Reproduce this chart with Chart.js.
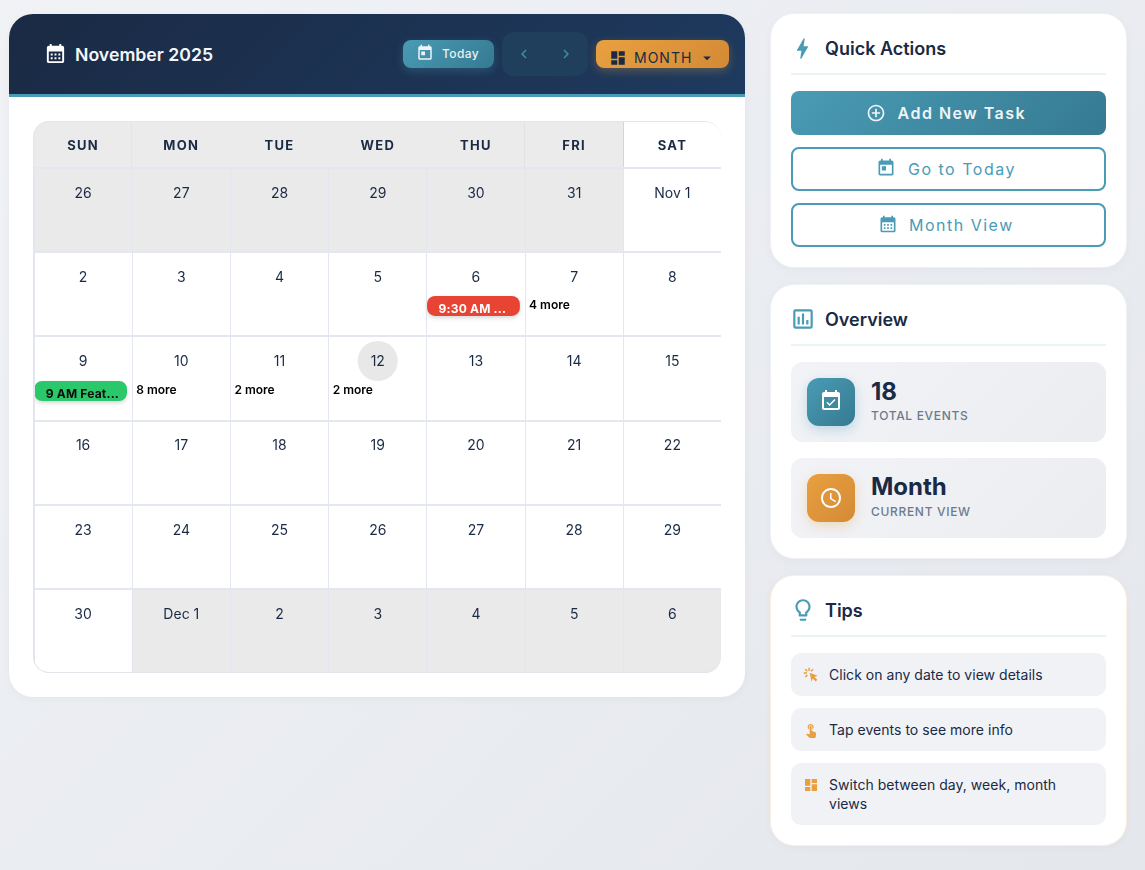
<!DOCTYPE html>
<html lang="en"><head><meta charset="utf-8"><title>Calendar</title>
<script src="https://cdn.jsdelivr.net/npm/chart.js@4"></script>
<style>
*{box-sizing:border-box;margin:0;padding:0}
html,body{width:1145px;height:870px;overflow:hidden}
body{font-family:Inter,sans-serif;color:#1a2a44;background:linear-gradient(135deg,#f0f2f6 0%,#e4e7ec 100%);position:relative}
.a{position:absolute}
.t{position:absolute;white-space:nowrap;line-height:20px;height:20px}
svg.i{position:absolute;fill:currentColor;display:block}
.card{position:absolute;left:770px;width:357px;background:#fff;border-radius:24px;border:1px solid #eef1f6;box-shadow:0 2px 10px rgba(26,42,68,.03)}
.main{position:absolute;left:9px;top:14px;width:736px;height:683px;background:#fff;border-radius:24px;overflow:hidden;box-shadow:0 2px 10px rgba(26,42,68,.04)}
.head{position:absolute;left:0;top:0;width:736px;height:83px;background:linear-gradient(135deg,#1a2a44,#1e3a5f);border-bottom:3px solid #4a9bb5}
.title{font-weight:600;font-size:18px;color:#1a2a44}
.rule{position:absolute;left:791px;width:315px;height:2px;background:#eaf4f7}
.btn{position:absolute;left:791px;width:315px;height:44px;border-radius:8px}
.out{border:2px solid #4a9bb5;background:#fff}
.stat{position:absolute;left:791px;width:315px;height:80px;border-radius:12px;background:linear-gradient(135deg,#f2f3f7,#ebedf1)}
.sic{position:absolute;left:807px;width:48px;height:48px;border-radius:12px}
.tip{position:absolute;left:791px;width:315px;border-radius:10px;background:#f1f2f6}
.tx{font-size:14px;color:#1a2a44;letter-spacing:.03px}
</style></head><body>
<svg width="0" height="0" style="position:absolute"><defs>
<symbol id="month" viewBox="0 0 24 24"><path d="M19 4h-1V2h-2v2H8V2H6v2H5c-1.11 0-1.99.9-1.99 2L3 20a2 2 0 0 0 2 2h14c1.1 0 2-.9 2-2V6c0-1.1-.9-2-2-2zm0 16H5V10h14v10zM9 14H7v-2h2v2zm4 0h-2v-2h2v2zm4 0h-2v-2h2v2zm-8 4H7v-2h2v2zm4 0h-2v-2h2v2zm4 0h-2v-2h2v2z"/></symbol>
<symbol id="today" viewBox="0 0 24 24"><path d="M19 3h-1V1h-2v2H8V1H6v2H5c-1.11 0-1.99.9-1.99 2L3 19c0 1.1.89 2 2 2h14c1.1 0 2-.9 2-2V5c0-1.1-.9-2-2-2zm0 16H5V8h14v11zM7 10h5v5H7z"/></symbol>
<symbol id="dash" viewBox="0 0 24 24"><path d="M3 13h8V3H3v10zm0 8h8v-6H3v6zm10 0h8V11h-8v10zm0-18v6h8V3h-8z"/></symbol>
<symbol id="left" viewBox="0 0 24 24"><path d="M15.41 7.41 14 6l-6 6 6 6 1.41-1.41L10.83 12z"/></symbol>
<symbol id="right" viewBox="0 0 24 24"><path d="M10 6 8.59 7.41 13.17 12l-4.58 4.59L10 18l6-6z"/></symbol>
<symbol id="drop" viewBox="0 0 24 24"><path d="M7 10l5 5 5-5z"/></symbol>
<symbol id="bolt" viewBox="0 0 24 24"><path d="M11 21h-1l1-7H7.5c-.58 0-.57-.32-.38-.66.19-.34.05-.08.07-.12C8.48 10.94 10.42 7.54 13 3h1l-1 7h3.5c.49 0 .56.33.47.51l-.07.15C12.96 17.55 11 21 11 21z"/></symbol>
<symbol id="add" viewBox="0 0 24 24"><path d="M13 7h-2v4H7v2h4v4h2v-4h4v-2h-4V7zm-1-5C6.48 2 2 6.48 2 12s4.48 10 10 10 10-4.48 10-10S17.52 2 12 2zm0 18c-4.41 0-8-3.59-8-8s3.59-8 8-8 8 3.59 8 8-3.59 8-8 8z"/></symbol>
<symbol id="chart" viewBox="0 0 24 24"><path d="M19 3H5c-1.1 0-2 .9-2 2v14c0 1.1.9 2 2 2h14c1.1 0 2-.9 2-2V5c0-1.1-.9-2-2-2zm0 16H5V5h14v14zM7 10h2v7H7zm4-3h2v10h-2zm4 6h2v4h-2z"/></symbol>
<symbol id="avail" viewBox="0 0 24 24"><path d="M16.53 11.06 15.47 10l-4.88 4.88-2.12-2.12-1.06 1.06L10.59 17l5.94-5.94zM19 3h-1V1h-2v2H8V1H6v2H5c-1.11 0-1.99.9-1.99 2L3 19c0 1.1.89 2 2 2h14c1.1 0 2-.9 2-2V5c0-1.1-.9-2-2-2zm0 16H5V8h14v11z"/></symbol>
<symbol id="clock" viewBox="0 0 24 24"><path d="M11.99 2C6.47 2 2 6.48 2 12s4.47 10 9.99 10C17.52 22 22 17.52 22 12S17.52 2 11.99 2zM12 20c-4.42 0-8-3.58-8-8s3.58-8 8-8 8 3.58 8 8-3.58 8-8 8zm.5-13H11v6l5.25 3.15.75-1.23-4.5-2.67z"/></symbol>
<symbol id="bulb" viewBox="0 0 24 24"><path d="M9 21c0 .55.45 1 1 1h4c.55 0 1-.45 1-1v-1H9v1zm3-19C8.14 2 5 5.14 5 9c0 2.38 1.19 4.47 3 5.74V17c0 .55.45 1 1 1h6c.55 0 1-.45 1-1v-2.26c1.81-1.27 3-3.36 3-5.74 0-3.86-3.14-7-7-7zm2.85 11.1-.85.6V16h-4v-2.3l-.85-.6C7.8 12.16 7 10.63 7 9c0-2.76 2.24-5 5-5s5 2.24 5 5c0 1.63-.8 3.16-2.15 4.1z"/></symbol>
<symbol id="touch" viewBox="0 0 24 24"><path d="M9 11.24V7.5C9 6.12 10.12 5 11.5 5S14 6.12 14 7.5v3.74c1.21-.81 2-2.18 2-3.74C16 5.01 13.99 3 11.5 3S7 5.01 7 7.5c0 1.56.79 2.93 2 3.74zm9.84 4.63l-4.54-2.26c-.17-.07-.35-.11-.54-.11H13v-6c0-.83-.67-1.5-1.5-1.5S10 6.67 10 7.5v10.74l-3.43-.72c-.08-.01-.15-.03-.24-.03-.31 0-.59.13-.79.33l-.79.8 4.94 4.94c.27.27.65.44 1.06.44h6.79c.75 0 1.33-.55 1.44-1.28l.75-5.27c.01-.07.02-.14.02-.2 0-.62-.38-1.16-.91-1.38z"/></symbol>
<symbol id="click" viewBox="0 0 24 24"><path d="M10 8.500l12 4.500-4.800 1.900 4.300 4.300-2.500 2.500-4.300-4.300L12.800 22zM8 1h2.200v5H8zM1 8h5v2.200H1zM2.600 4.200l1.600-1.600 3.100 3.100-1.600 1.600zM2.600 14.200l3.100-3.100 1.600 1.600-3.100 3.100zM11.200 5.700l3.100-3.100 1.600 1.600-3.100 3.100z"/></symbol>
</defs></svg>

<div class="main"><div class="head"></div></div>
<svg class="i" style="left:44px;top:42px;width:23px;height:23px;color:#fff"><use href="#month"/></svg>
<div class="t" style="left:75px;top:45px;font-size:17.7px;font-weight:600;color:#f4f6f9">November 2025</div>
<div class="a" style="left:403px;top:40px;width:91px;height:28px;border-radius:8px;background:linear-gradient(135deg,#4a9bb5,#357a91);box-shadow:0 3px 10px rgba(74,155,181,.3)"></div>
<svg class="i" style="left:416px;top:44px;width:18px;height:18px;color:#eef4f7"><use href="#today"/></svg>
<div class="t" style="left:442px;top:44px;font-size:12px;font-weight:500;letter-spacing:.4px;color:#e9f1f5">Today</div>
<div class="a" style="left:502px;top:32px;width:86px;height:44px;border-radius:12px;background:#203f5c"></div>
<svg class="i" style="left:515px;top:45px;width:18px;height:18px;color:#3f8aa6"><use href="#left"/></svg>
<svg class="i" style="left:557px;top:45px;width:18px;height:18px;color:#3f8aa6"><use href="#right"/></svg>
<div class="a" style="left:596px;top:40px;width:133px;height:28px;border-radius:8px;background:linear-gradient(135deg,#e8a040,#d48a35);box-shadow:0 3px 10px rgba(232,160,64,.3)"></div>
<svg class="i" style="left:609px;top:49px;width:18px;height:18px;color:#1a2a44"><use href="#dash"/></svg>
<div class="t" style="left:634px;top:48px;font-size:14px;font-weight:400;letter-spacing:1px;color:#1a2a44">MONTH</div>
<svg class="i" style="left:698px;top:49px;width:18px;height:18px;color:#1a2a44"><use href="#drop"/></svg>

<div class="a" id="gridWrap" style="left:33px;top:121px;width:688px;height:552px;border-radius:16px;overflow:hidden;background:linear-gradient(90deg,#ebebeb 0,#ebebeb 590px,#fff 590px)">
  <div class="a" style="left:98px;top:0;width:1px;height:46px;background:#e4e4e6"></div>
  <div class="a" style="left:491px;top:0;width:1px;height:46px;background:#e2e2e4"></div>
  <div class="a" style="left:590px;top:0;width:1px;height:46px;background:#d6d6da"></div>
  <canvas id="cal" class="a" style="left:0;top:0" width="690" height="552"></canvas>
  <div class="a" style="left:0;top:0;width:688px;height:552px;border:1px solid #e4e5ea;border-right:0;border-radius:16px"></div>
</div>

<div class="card" style="top:13px;height:255px"></div>
<svg class="i" style="left:789px;top:35px;width:27px;height:27px;color:#4a9bb5"><use href="#bolt"/></svg>
<div class="t title" style="left:825px;top:39px">Quick Actions</div>
<div class="rule" style="top:73px"></div>
<div class="btn" style="top:91px;background:linear-gradient(135deg,#4a9bb5,#357a91)"></div>
<svg class="i" style="left:866px;top:103px;width:20px;height:20px;color:#eef5f8"><use href="#add"/></svg>
<div class="t" style="left:897.500px;top:103px;font-size:16px;font-weight:600;letter-spacing:1.5px;color:#eef5f8">Add New Task</div>
<div class="btn out" style="top:147px"></div>
<svg class="i" style="left:876px;top:158px;width:20px;height:20px;color:#4a9bb5"><use href="#today"/></svg>
<div class="t" style="left:908px;top:159px;font-size:16px;font-weight:400;letter-spacing:1.5px;color:#4a9bb5">Go to Today</div>
<div class="btn out" style="top:203px"></div>
<svg class="i" style="left:878px;top:214px;width:20px;height:20px;color:#4a9bb5"><use href="#month"/></svg>
<div class="t" style="left:909px;top:215px;font-size:16px;font-weight:400;letter-spacing:1.5px;color:#4a9bb5">Month View</div>

<div class="card" style="top:284px;height:275px"></div>
<svg class="i" style="left:790px;top:306px;width:26px;height:26px;color:#4a9bb5"><use href="#chart"/></svg>
<div class="t title" style="left:825px;top:310px">Overview</div>
<div class="rule" style="top:344px"></div>
<div class="stat" style="top:362px"></div>
<div class="sic" style="top:378px;background:linear-gradient(135deg,#4a9bb5,#357a91);box-shadow:0 4px 12px rgba(74,155,181,.3)"></div>
<svg class="i" style="left:819px;top:389px;width:24px;height:24px;color:#fff"><use href="#avail"/></svg>
<div class="t" style="left:871px;top:382px;font-size:24px;font-weight:700;color:#1a2a44">18</div>
<div class="t" style="left:871px;top:406px;font-size:12px;font-weight:500;letter-spacing:.68px;color:#6b7a8d">TOTAL EVENTS</div>
<div class="stat" style="top:458px"></div>
<div class="sic" style="top:474px;background:linear-gradient(135deg,#e8a040,#d48a35);box-shadow:0 4px 12px rgba(232,160,64,.3)"></div>
<svg class="i" style="left:819px;top:486px;width:24px;height:24px;color:#fff"><use href="#clock"/></svg>
<div class="t" style="left:871px;top:477px;font-size:24px;font-weight:700;color:#1a2a44">Month</div>
<div class="t" style="left:871px;top:502px;font-size:12px;font-weight:500;letter-spacing:.68px;color:#6b7a8d">CURRENT VIEW</div>

<div class="card" style="top:575px;height:271px;border-color:#fbefdf"></div>
<svg class="i" style="left:790px;top:597px;width:26px;height:26px;color:#4a9bb5"><use href="#bulb"/></svg>
<div class="t title" style="left:825px;top:601px">Tips</div>
<div class="rule" style="top:635px"></div>
<div class="tip" style="top:653px;height:43px"></div>
<svg class="i" style="left:803px;top:667px;width:16px;height:16px;color:#e8a040"><use href="#click"/></svg>
<div class="t tx" style="left:829px;top:665px">Click on any date to view details</div>
<div class="tip" style="top:708px;height:43px"></div>
<svg class="i" style="left:803px;top:722px;width:16px;height:16px;color:#e8a040"><use href="#touch"/></svg>
<div class="t tx" style="left:829px;top:720px">Tap events to see more info</div>
<div class="tip" style="top:763px;height:62px"></div>
<svg class="i" style="left:803px;top:777px;width:16px;height:16px;color:#e8a040"><use href="#dash"/></svg>
<div class="t tx" style="left:829px;top:775px">Switch between day, week, month</div>
<div class="t tx" style="left:829px;top:794px">views</div>

<script>
const dayNames = ['SUN','MON','TUE','WED','THU','FRI','SAT'];
const week1Dates = ['26','27','28','29','30','31','Nov 1'];
const week2Dates = ['2','3','4','5','6','7','8'];
const week3Dates = ['9','10','11','12','13','14','15'];
const week4Dates = ['16','17','18','19','20','21','22'];
const week5Dates = ['23','24','25','26','27','28','29'];
const week6Dates = ['30','Dec 1','2','3','4','5','6'];
const weekRows = [week1Dates,week2Dates,week3Dates,week4Dates,week5Dates,week6Dates];
const mutedDates = [['26','27','28','29','30','31'],[],[],[],[],['Dec 1','2','3','4','5','6']];
const eventLabels = ['9:30 AM ...','9 AM Feat...'];
const eventDays = ['THU','SUN'];
const eventSpans = [[1.52,1.758],[2.53,2.768]];
const eventColors = ['#e74433','#2bc76b'];
const eventTextColors = ['#ffffff','#0b0b0b'];
const moreLabels = ['4 more','8 more','2 more','2 more'];
const moreDays = ['FRI','MON','TUE','WED'];
const moreWeeks = [1.637,2.637,2.637,2.637];
const todayDay = ['WED'];
const todayWeek = [2.293];

const weekSets = weekRows.map((row,w)=>({
  type:'bar',
  label:'Week '+(w+1),
  data: row.map(()=>[w,w+1]),
  backgroundColor: row.map(d=>mutedDates[w].includes(d)?'#eaeaea':'#ffffff'),
  borderWidth:0, barPercentage:1, categoryPercentage:1, grouped:false, order:10
}));
const eventSets = eventLabels.map((l,i)=>({
  type:'bar',
  label:l,
  data: dayNames.map(d=>d===eventDays[i]?eventSpans[i]:null),
  backgroundColor:eventColors[i], borderWidth:0, borderSkipped:false, borderRadius:8,
  barPercentage:0.945, categoryPercentage:1, grouped:false, order:1, isEvent:true
}));
const todaySet = {
  type:'line', label:'Today', showLine:false, order:5,
  data: todayDay.map((d,i)=>({x:d,y:todayWeek[i]})),
  pointRadius:20, pointHoverRadius:20, pointBackgroundColor:'#e8e8e8', pointBorderWidth:0
};

const calendarText = {
  id:'calendarText',
  beforeDraw(c){ c.ctx.letterSpacing='1.3px'; },
  beforeDatasetsDraw(c){ c.ctx.letterSpacing='0px'; },
  beforeDatasetDraw(c,a){
    const ds=c.data.datasets[a.index];
    if(ds.isEvent){ c.ctx.save(); c.ctx.translate(-2.5,0);
      c.ctx.shadowColor='rgba(0,0,0,.16)'; c.ctx.shadowBlur=4; c.ctx.shadowOffsetY=2; }
  },
  afterDatasetDraw(c,a){ if(c.data.datasets[a.index].isEvent) c.ctx.restore(); },
  afterDraw(c){
    const {ctx,scales:{x,y}}=c;
    const colW=x.getPixelForValue(1)-x.getPixelForValue(0);
    ctx.save(); ctx.letterSpacing='0px';
    ctx.textBaseline='middle'; ctx.textAlign='center';
    ctx.font='400 14px Inter'; ctx.fillStyle='#1a2a44';
    weekRows.forEach((row,w)=>row.forEach((d,i)=>{
      ctx.fillText(d,x.getPixelForValue(i),y.getPixelForValue(w+0.305));
    }));
    ctx.textAlign='left';
    ctx.font='700 12px Inter'; ctx.letterSpacing='0.2px';
    eventLabels.forEach((l,i)=>{
      ctx.fillStyle=eventTextColors[i];
      const cx=x.getPixelForValue(dayNames.indexOf(eventDays[i]));
      ctx.fillText(l,cx-colW*0.4725-2.5+11.5,y.getPixelForValue((eventSpans[i][0]+eventSpans[i][1])/2)+3);
    });
    ctx.letterSpacing='0px'; ctx.fillStyle='#000'; ctx.font='600 12px Inter';
    moreLabels.forEach((l,i)=>{
      const k=dayNames.indexOf(moreDays[i]);
      ctx.fillText(l,x.getPixelForValue(k)-colW/2+4,y.getPixelForValue(moreWeeks[i]));
    });
    ctx.restore();
  }
};

function clearScalePadding(s){ s.paddingLeft=0; s.paddingRight=0; s.paddingTop=0; s.paddingBottom=0; }

new Chart(document.getElementById('cal'),{
  data:{labels:dayNames,datasets:[...weekSets,...eventSets,todaySet]},
  plugins:[calendarText],
  options:{
    responsive:false, animation:false, maintainAspectRatio:false,
    layout:{autoPadding:false,padding:{left:1,right:1.5,top:0,bottom:0}},
    plugins:{legend:{display:false},tooltip:{enabled:false}},
    events:[],
    scales:{
      x:{type:'category',position:'top',offset:true,
        afterFit(s){s.height=47;clearScalePadding(s);},
        border:{display:false},
        grid:{offset:true,color:'#e3e6f0',lineWidth:1,drawTicks:false,z:1},
        ticks:{color:'#1a2a44',font:{family:'Inter',size:13,weight:'700'},padding:14.5,maxRotation:0,autoSkip:false}},
      y:{type:'linear',reverse:true,min:0,max:6,
        afterFit(s){s.width=0;clearScalePadding(s);},
        border:{display:false},
        grid:{color:'#e5e7f0',lineWidth:2,drawTicks:false,z:1},
        ticks:{display:false,stepSize:1}}
    }
  }
});
</script>
</body></html>
